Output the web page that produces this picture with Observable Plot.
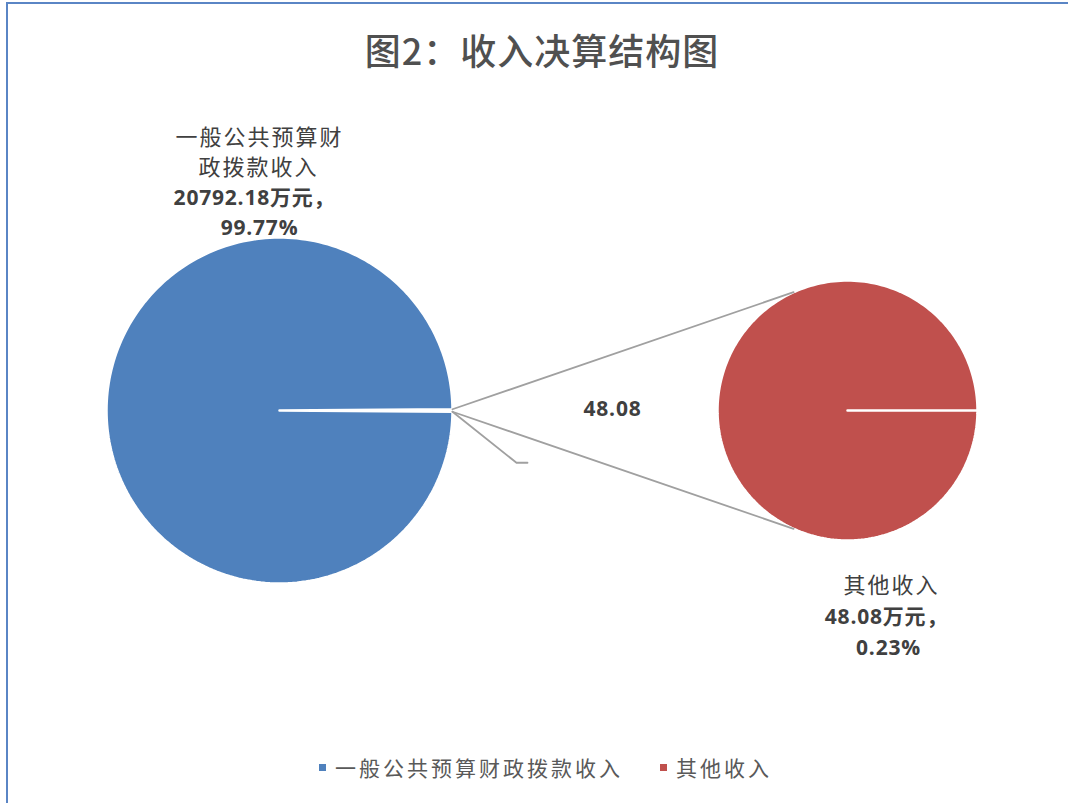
<!DOCTYPE html>
<html><head><meta charset="utf-8">
<script src="https://cdn.jsdelivr.net/npm/d3@7"></script>
<script src="https://cdn.jsdelivr.net/npm/@observablehq/plot@0.6"></script>
<style>
html,body{margin:0;padding:0;background:#fff;}
#wrap{position:relative;width:1068px;height:803px;overflow:hidden;background:#fff;font-family:"Noto Sans CJK SC",sans-serif;}
#frame{position:absolute;left:6px;top:2px;right:-10px;bottom:-10px;border-top:2px solid #5a85c5;border-left:2px solid #5a85c5;}
#title{position:absolute;top:28px;left:0;width:1084px;text-align:center;font-size:36px;font-weight:500;line-height:1.2;color:#505050;letter-spacing:1px;}
#chart{position:absolute;left:0;top:90px;}
#chart g[font-family^="Noto"]{letter-spacing:2px;}
#chart g[font-family^="Open"]{letter-spacing:0.8px;}
#legend{position:absolute;left:319px;top:755px;display:flex;align-items:center;font-size:21px;line-height:1.2;color:#595959;letter-spacing:3px;}
#legend .item{display:flex;align-items:center;margin-right:37px;}
#legend .sw{width:7px;height:7px;display:inline-block;margin-right:9px;}
</style></head><body>
<div id="wrap"><div id="frame"></div><div id="title"></div><div id="chart"></div><div id="legend"></div></div>
<script>
// ---- data ----
const title = "图2：收入决算结构图";
const categories = ["一般公共预算财政拨款收入", "其他收入"];
const values = [20792.18, 48.08];
const colors = ["#4F81BD", "#C0504D"];
const unit = "万元，";

// ---- layout ----
const W = 1068, Y0 = 90, H = 650;
const P = {cx: 279, cy: 410, r: 173};   // primary pie
const S = {cx: 847, cy: 410, r: 130};   // secondary pie
const textColor = "#404040";
const cjk = "Noto Sans CJK SC, sans-serif";
const num = "Open Sans, Noto Sans CJK SC, sans-serif";

document.getElementById("title").textContent = title;

const total = d3.sum(values);
const fmtPct = d3.format(".2%");
const fmtVal = v => v.toFixed(2);
const otherAngle = 2 * Math.PI * values[1] / total;

function pt(c, t, r = c.r) { return {x: c.cx + r * Math.cos(t), y: c.cy - r * Math.sin(t)}; }
function wedge(c, a0, a1, key, color) {
  const n = 240, pts = [{x: c.cx, y: c.cy, key, color}];
  for (let i = 0; i <= n; i++) { const p = pt(c, a0 + (a1 - a0) * i / n); pts.push({...p, key, color}); }
  pts.push({x: c.cx, y: c.cy, key, color});
  return pts;
}
// primary: main slice, with the "other" slice split out to the right
const slices = [
  ...wedge(P, otherAngle / 2, 2 * Math.PI - otherAngle / 2, categories[0], colors[0]),
  ...wedge(S, 0, 2 * Math.PI, categories[1], colors[1])
];
const secAngle = 114.5 * Math.PI / 180;
const connectors = [
  {...pt(P, otherAngle / 2), k: "u"}, {...pt(S, secAngle), k: "u"},
  {...pt(P, -otherAngle / 2), k: "l"}, {...pt(S, -secAngle), k: "l"}
];
const ls = pt(P, -otherAngle / 2);
const leader = [ls, {x: ls.x + 64, y: ls.y + 51}, {x: ls.x + 75, y: ls.y + 51}];

const name0 = categories[0];
const labels = [
  {t: name0.slice(0, 7), x: 259, y: 137, f: cjk},
  {t: name0.slice(7), x: 258, y: 167, f: cjk},
  {t: fmtVal(values[0]) + unit, x: 254, y: 198, f: num},
  {t: fmtPct(values[0] / total), x: 259, y: 228, f: num},
  {t: categories[1], x: 891, y: 585, f: cjk},
  {t: fmtVal(values[1]) + unit, x: 886, y: 617, f: num},
  {t: fmtPct(values[1] / total), x: 888, y: 648, f: num}
];

const chart = Plot.plot({
  width: W, height: H, margin: 0,
  x: {domain: [0, W], range: [0, W], axis: null},
  y: {domain: [Y0, Y0 + H], range: [0, H], axis: null},
  color: {type: "identity"},
  style: {background: "transparent", overflow: "visible"},
  marks: [
    Plot.line(slices, {x: "x", y: "y", z: "key", fill: "color", stroke: "white", strokeWidth: 2.5, strokeLinejoin: "miter"}),
    Plot.line(connectors, {x: "x", y: "y", z: "k", stroke: "#a0a0a0", strokeWidth: 1.8}),
    Plot.line(leader, {x: "x", y: "y", stroke: "#a0a0a0", strokeWidth: 1.8}),
    Plot.text([fmtVal(values[1])], {x: () => 612, y: () => 409, text: d => d, fontSize: 21, fontWeight: "bold", fontFamily: num, fill: textColor}),
    Plot.text(labels.filter(d => d.f === cjk), {x: "x", y: "y", text: "t", fontSize: 22, fontFamily: cjk, fill: textColor}),
    Plot.text(labels.filter(d => d.f === num), {x: "x", y: "y", text: "t", fontSize: 21, fontWeight: "bold", fontFamily: num, fill: textColor})
  ]
});
document.getElementById("chart").appendChild(chart);

const legend = document.getElementById("legend");
categories.forEach((c, i) => {
  const item = document.createElement("div"); item.className = "item";
  const sw = document.createElement("span"); sw.className = "sw"; sw.style.background = colors[i];
  const tx = document.createElement("span"); tx.textContent = c;
  item.appendChild(sw); item.appendChild(tx); legend.appendChild(item);
});
</script>
</body></html>
